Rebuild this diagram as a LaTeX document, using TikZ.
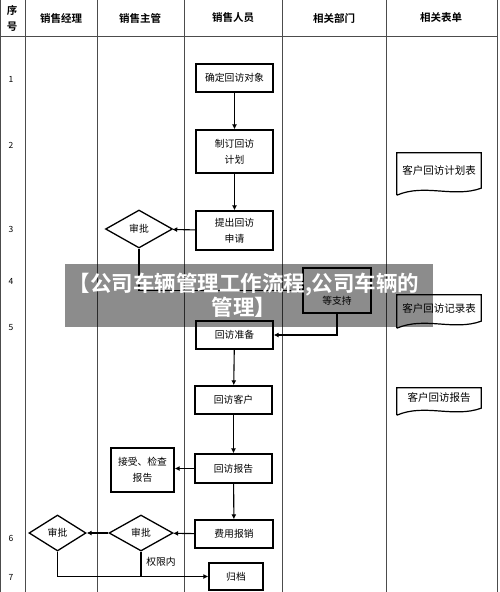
\documentclass[tikz,border=0pt]{standalone}
\usepackage{fontspec}
\newfontfamily\cjk{Noto Sans CJK SC}
\newfontfamily\cjkbold{Noto Sans CJK SC Bold}
\usetikzlibrary{arrows.meta,shapes.geometric}

\begin{document}
\begin{tikzpicture}[x=1pt,y=-1pt,
	font=\cjk\fontsize{9.8}{12}\selectfont,
	grid/.style={draw=black!70,line width=1pt},
	head/.style={font=\cjkbold\fontsize{10.5}{12}\selectfont},
	num/.style={font=\cjk\fontsize{8.5}{10}\selectfont},
	proc/.style={draw,line width=1.3pt,minimum width=77pt,minimum height=28pt,align=center,inner sep=1pt},
	check/.style={diamond,draw,line width=1.3pt,minimum width=64pt,minimum height=36pt,aspect=1.8,inner sep=0pt},
	doc/.style={minimum width=84pt,align=center,inner sep=1pt,font=\cjk\fontsize{10.5}{12}\selectfont},
	flow/.style={line width=1.1pt,-{Latex[length=5pt,width=5pt]}},
	link/.style={line width=1.1pt}]

	\useasboundingbox (0,0) rectangle (500,592);
	\fill[white] (0,0) rectangle (500,592);

	\draw[grid] (0.5,0) -- (0.5,592);
	\foreach \x in {25,97,184,282,386,497}
		\draw[grid] (\x,0) -- (\x,592);
	\draw[grid] (0,36) -- (497,36);

	\node[head] (hseq1) at (12,10) {序};
	\node[head] (hseq2) at (12,27) {号};
	\node[head] (hmgr) at (61,18) {销售经理};
	\node[head] (hsup) at (140,18) {销售主管};
	\node[head] (hrep) at (233,18) {销售人员};
	\node[head] (hdep) at (334,18) {相关部门};
	\node[head] (hform) at (441,18) {相关表单};

	\foreach \n/\y in {1/79,2/145,3/229,4/281,5/328,6/538,7/577}
		\node[num] (row\n) at (11,\y) {\n};

	\node[proc] (confirm) at (234.5,78) {确定回访对象};
	\node[proc,minimum height=43pt] (plan) at (234.5,151.5) {制订回访\\[4pt]计划};
	\node[proc,minimum height=39pt] (apply) at (234.5,230.5) {提出回访\\[4pt]申请};
	\node[check,minimum width=67pt,minimum height=38pt] (approveA) at (139,229) {审批};
	\node[proc,minimum width=68pt,minimum height=45pt] (support) at (337,290.5) {\phantom{等支持}\\[9pt]等支持};
	\node[proc] (prepare) at (234.5,335) {回访准备};
	\node[proc] (visit) at (233.5,400) {回访客户};
	\node[proc,minimum height=29pt] (report) at (233.5,468.5) {回访报告};
	\node[proc,minimum width=63pt,minimum height=44pt] (inspect) at (142.5,470) {接受、检查\\[4pt]报告};
	\node[proc,minimum width=78pt] (expense) at (234,534) {费用报销};
	\node[check] (approveB) at (141,533) {审批};
	\node[check,minimum width=57pt] (approveC) at (57.5,533) {审批};
	\node[proc,minimum width=54pt,minimum height=27pt] (archive) at (236,576.5) {归档};
	\node (within) at (161,562) {权限内};

	\draw[flow] (confirm) -- (plan);
	\draw[flow] (plan) -- (apply);
	\draw[flow] (apply) -- (approveA);
	\draw[flow] (approveA.south) |- (support.west);
	\draw[flow] (support.south) |- (prepare.east);
	\draw[flow] (prepare) -- (visit);
	\draw[flow] (visit) -- (report);
	\draw[flow] (report) -- (inspect.east |- report.west);
	\draw[flow] (report) -- (expense);
	\draw[flow] (expense) -- (approveB);
	\draw[flow] (approveB) -- (approveC);
	\draw[flow] (approveC.south) |- (archive.west);
	\draw[link] (approveB.south) -- (approveB.south |- archive.west);

	\node[doc,minimum height=35pt] (planform) at (439,170.5) {客户回访计划表};
	\node[doc,minimum height=26pt] (recordform) at (439,308) {客户回访记录表};
	\node[doc,minimum height=20pt] (reportform) at (439,398) {客户回访报告};
	\foreach \d in {planform,recordform,reportform}
		\draw[line width=1.2pt] ([yshift=-7pt]\d.south west) -- (\d.north west) -- (\d.north east) -- (\d.south east)
			.. controls ([xshift=-28pt,yshift=-10pt]\d.south east) and ([xshift=28pt,yshift=5pt]\d.south west) .. ([yshift=-7pt]\d.south west);

	\fill[black,opacity=0.45] (65,264) rectangle (433,327);
	\node[text=white,align=center,font=\cjkbold\fontsize{21.5}{23}\selectfont] (banner) at (244,295) {【公司车辆管理工作流程,公司车辆的\\管理】};
\end{tikzpicture}
\end{document}
